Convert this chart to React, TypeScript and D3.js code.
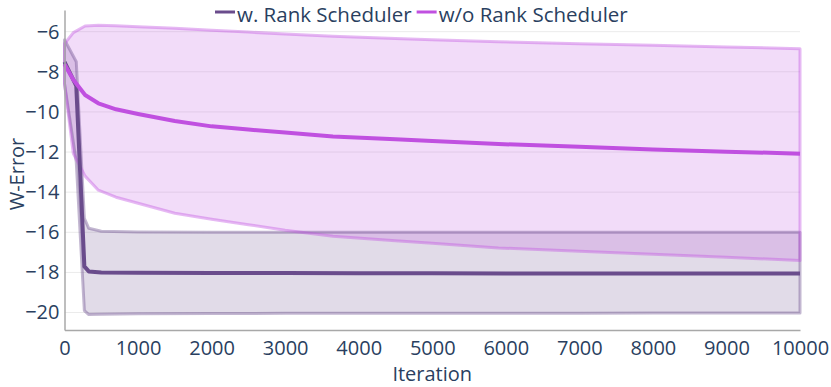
import React, { useRef, useEffect } from "react";
import { select, scaleLinear, line, axisBottom, axisLeft } from "d3";

const iterWith = [0, 160, 270, 330, 500, 1000, 2000, 3000, 4000, 5000, 6000, 7000, 8000, 9000, 10000];
const meanWith = [-7.5, -8.7, -17.7, -17.95, -18.0, -18.02, -18.03, -18.03, -18.04, -18.04, -18.05, -18.05, -18.05, -18.05, -18.05];
const upperWith = [-6.4, -7.5, -15.3, -15.8, -15.95, -15.98, -16.0, -16.0, -16.0, -16.0, -16.0, -16.0, -16.0, -16.0, -16.0];
const lowerWith = [-8.6, -12.5, -19.9, -20.1, -20.08, -20.06, -20.05, -20.04, -20.04, -20.03, -20.03, -20.03, -20.02, -20.02, -20.02];

const iterWithout = [0, 120, 280, 460, 700, 1000, 1500, 2000, 2500, 3000, 3650, 4500, 5000, 5900, 7000, 8000, 9000, 10000];
const meanWithout = [-7.62, -8.4, -9.16, -9.57, -9.87, -10.1, -10.45, -10.72, -10.88, -11.02, -11.23, -11.36, -11.45, -11.6, -11.74, -11.87, -11.98, -12.08];
const upperWithout = [-6.6, -6.05, -5.72, -5.68, -5.7, -5.75, -5.83, -5.93, -6.02, -6.12, -6.23, -6.34, -6.4, -6.5, -6.6, -6.68, -6.76, -6.85];
const lowerWithout = [-8.6, -12.07, -13.2, -13.9, -14.25, -14.55, -15.05, -15.35, -15.62, -15.9, -16.2, -16.42, -16.55, -16.78, -16.95, -17.1, -17.25, -17.4];

const xTicks = [0, 1000, 2000, 3000, 4000, 5000, 6000, 7000, 8000, 9000, 10000];
const yTicks = [-20, -18, -16, -14, -12, -10, -8, -6];

const series = [
  { name: "w. Rank Scheduler", rgb: "106,76,140", iter: iterWith, mean: meanWith, upper: upperWith, lower: lowerWith },
  { name: "w/o Rank Scheduler", rgb: "192,80,224", iter: iterWithout, mean: meanWithout, upper: upperWithout, lower: lowerWithout },
];

const W = 831;
const H = 387;
const font = "'Open Sans', sans-serif";
const textColor = "#2a3f5f";

function App() {
  const svgRef = useRef<SVGSVGElement>(null);

  useEffect(() => {
    document.body.style.margin = "0";
    const svg = select(svgRef.current);
    svg.selectAll("*").remove();

    const xScale = scaleLinear().domain([0, 10000]).range([64.5, 800]);
    const yScale = scaleLinear().domain([-20.87, -4.92]).range([330, 10]);

    // grid
    svg.append("g")
      .selectAll("line")
      .data(yTicks)
      .join("line")
      .attr("x1", xScale(0))
      .attr("x2", xScale(10000))
      .attr("y1", (d) => yScale(d))
      .attr("y2", (d) => yScale(d))
      .attr("stroke", "#ebebeb")
      .attr("stroke-width", 1);

    const path = line<[number, number]>()
      .x((d) => xScale(d[0]))
      .y((d) => yScale(d[1]));

    const bands = series.map((s) => {
      const up = s.iter.map((x, i) => [x, s.upper[i]] as [number, number]);
      const lo = s.iter.map((x, i) => [x, s.lower[i]] as [number, number]).reverse();
      return path(up.concat(lo)) + "Z";
    });

    // band fills
    svg.append("g")
      .selectAll("path")
      .data(series)
      .join("path")
      .attr("d", (_, i) => bands[i])
      .attr("fill", (s) => `rgba(${s.rgb},0.2)`)
      .attr("stroke", "none");

    // band outlines
    svg.append("g")
      .selectAll("path")
      .data(series)
      .join("path")
      .attr("d", (_, i) => bands[i])
      .attr("fill", "none")
      .attr("stroke", (s) => `rgba(${s.rgb},0.4)`)
      .attr("stroke-width", 3)
      .attr("stroke-linejoin", "round");

    // mean lines
    svg.append("g")
      .selectAll("path")
      .data(series)
      .join("path")
      .attr("d", (s) => path(s.iter.map((x, i) => [x, s.mean[i]] as [number, number])))
      .attr("fill", "none")
      .attr("stroke", (s) => `rgb(${s.rgb})`)
      .attr("stroke-width", 4)
      .attr("stroke-linejoin", "round");

    // axes
    const xAxis = axisBottom(xScale).tickValues(xTicks).tickFormat((d) => String(d)).tickSize(0).tickPadding(11);
    const gx = svg.append("g").attr("transform", `translate(0,330)`).call(xAxis);
    gx.select(".domain").attr("stroke", "#a8a8a8").attr("stroke-width", 1.5);
    gx.selectAll("text").attr("font-family", font).attr("font-size", 20).attr("fill", textColor);

    const yAxis = axisLeft(yScale).tickValues(yTicks).tickFormat((d) => String(d).replace("-", "\u2212")).tickSize(0).tickPadding(5);
    const gy = svg.append("g").attr("transform", `translate(64.5,0)`).call(yAxis);
    gy.select(".domain").attr("stroke", "#a8a8a8").attr("stroke-width", 1.5);
    gy.selectAll("text").attr("font-family", font).attr("font-size", 20).attr("fill", textColor);

    // titles
    svg.append("text")
      .attr("x", (xScale(0) + xScale(10000)) / 2)
      .attr("y", 381)
      .attr("text-anchor", "middle")
      .attr("font-family", font)
      .attr("font-size", 20)
      .attr("fill", textColor)
      .text("Iteration");

    svg.append("text")
      .attr("transform", `translate(24,174) rotate(-90)`)
      .attr("text-anchor", "middle")
      .attr("font-family", font)
      .attr("font-size", 20)
      .attr("fill", textColor)
      .text("W-Error");

    // legend
    let lx = 215;
    series.forEach((s) => {
      const g = svg.append("g");
      g.append("line")
        .attr("x1", lx)
        .attr("x2", lx + 20)
        .attr("y1", 12)
        .attr("y2", 12)
        .attr("stroke", `rgb(${s.rgb})`)
        .attr("stroke-width", 3);
      const t = g.append("text")
        .attr("x", lx + 22)
        .attr("y", 22)
        .attr("font-family", font)
        .attr("font-size", 20.5)
        .attr("fill", textColor)
        .text(s.name);
      const len = (t.node() as SVGTextElement).getComputedTextLength();
      lx = lx + 22 + len + 5;
    });
  }, []);

  return (
    <svg ref={svgRef} width={W} height={H} style={{ display: "block", background: "#fff" }} />
  );
}

export default App;
